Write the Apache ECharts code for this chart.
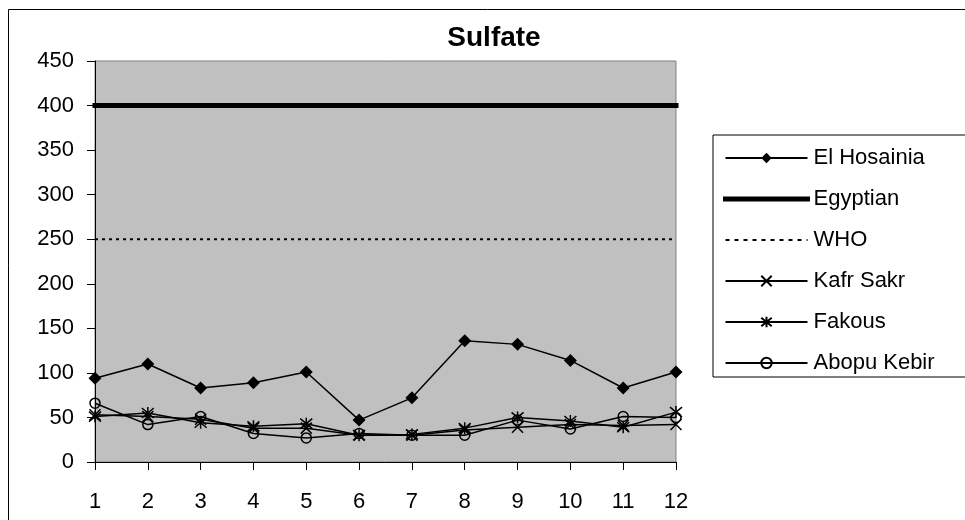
<!DOCTYPE html>
<html>
<head>
<meta charset="utf-8">
<script src="https://cdn.jsdelivr.net/npm/echarts@6/dist/echarts.min.js"></script>
<style>html,body{margin:0;padding:0;background:#fff;}#c{width:965px;height:520px;}</style>
</head>
<body>
<div id="c"></div>
<script>
var categories = ['1','2','3','4','5','6','7','8','9','10','11','12'];
var elHosainia = [94, 110, 83, 89, 101, 47, 72, 136, 132, 114, 83, 101];
var egyptian   = [400,400,400,400,400,400,400,400,400,400,400,400];
var who        = [250,250,250,250,250,250,250,250,250,250,250,250];
var kafrSakr   = [53, 51, 48, 38, 38, 30, 30, 36, 39, 42, 41, 42];
var fakous     = [51, 55, 44, 40, 43, 30, 31, 38, 50, 46, 39, 56];
var abopuKebir = [66, 42, 51, 32, 27, 32, 30, 30, 47, 37, 51, 50];

var FONT = '"Liberation Sans", Arial, sans-serif';
var xPath = 'path://M0 0L10 10M10 0L0 10';
var starPath = 'path://M0 0L10 10M10 0L0 10M5 -1L5 11';

function ls(name, data, symbol, size, itemStyle){
  return {name:name, type:'line', data:data, symbol:symbol, symbolSize:size,
    showAllSymbol:true, animation:false,
    lineStyle:{color:'#000', width:1.5},
    itemStyle:itemStyle};
}
var hidden = {color:'transparent', borderColor:'transparent', borderWidth:0};

var chart = echarts.init(document.getElementById('c'));
chart.setOption({
  animation:false,
  backgroundColor:'#fff',
  graphic:[{type:'rect', shape:{x:8.5, y:9.5, width:1000, height:600},
    style:{fill:'none', stroke:'#000', lineWidth:1}, silent:true, z:-10}],
  title:{text:'Sulfate', left:489, top:19, textAlign:'center',
    textStyle:{fontFamily:FONT, fontSize:28, fontWeight:'bold', color:'#000'}},
  grid:{left:95, top:61, right:289, bottom:58, show:true,
    backgroundColor:'#c0c0c0', borderColor:'#808080', borderWidth:1},
  xAxis:{type:'category', data:categories, boundaryGap:false,
    axisLine:{lineStyle:{color:'#000', width:1}},
    axisTick:{length:8, lineStyle:{color:'#000'}},
    axisLabel:{fontFamily:FONT, fontSize:22, color:'#000', margin:29}},
  yAxis:{type:'value', min:0, max:450, interval:50,
    axisLine:{show:true, lineStyle:{color:'#000', width:1}},
    axisTick:{show:true, length:8, lineStyle:{color:'#000'}},
    splitLine:{show:false},
    axisLabel:{fontFamily:FONT, fontSize:22, color:'#000', margin:21}},
  legend:{orient:'vertical', left:713, top:135,
    padding:[12, 44, 3, 10], itemWidth:82, itemHeight:13, itemGap:19,
    borderColor:'#000', borderWidth:1, backgroundColor:'#fff',
    textStyle:{fontFamily:FONT, fontSize:22, lineHeight:20, color:'#000', padding:[0,0,0,1]},
    data:[
      {name:'El Hosainia'},
      {name:'Egyptian', lineStyle:{width:5, color:'#000'}, itemStyle:hidden},
      {name:'WHO', lineStyle:{width:2, color:'#000', type:[4,5]}, itemStyle:hidden},
      {name:'Kafr Sakr'},
      {name:'Fakous'},
      {name:'Abopu Kebir'}
    ]},
  series:[
    ls('El Hosainia', elHosainia, 'diamond', 13, {color:'#000'}),
    {name:'Egyptian', type:'line', data:egyptian, symbol:'circle', showSymbol:false,
      lineStyle:{color:'#000', width:5, cap:'square'}, itemStyle:hidden},
    {name:'WHO', type:'line', data:who, symbol:'circle', showSymbol:false,
      lineStyle:{color:'#000', width:2, type:[3,4]}, itemStyle:hidden},
    ls('Kafr Sakr', kafrSakr, xPath, 11, {color:'none', borderColor:'#000', borderWidth:1.5}),
    ls('Fakous', fakous, starPath, 12, {color:'none', borderColor:'#000', borderWidth:1.5}),
    ls('Abopu Kebir', abopuKebir, 'circle', 10, {color:'none', borderColor:'#000', borderWidth:1.5})
  ]
});
</script>
</body>
</html>
